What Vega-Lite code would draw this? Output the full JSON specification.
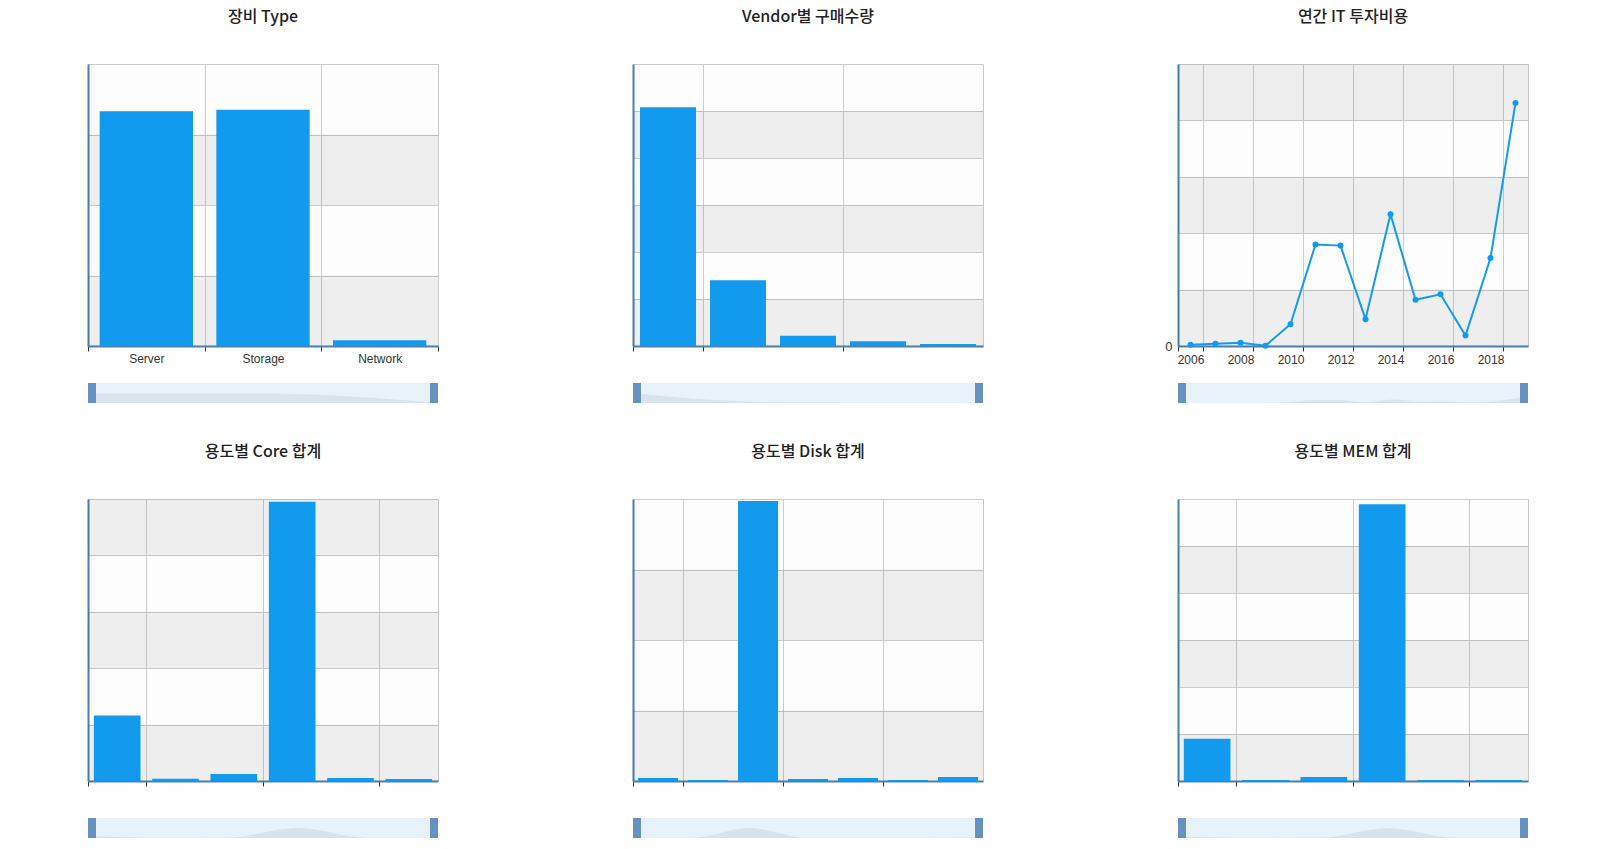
{
  "$schema": "https://vega.github.io/schema/vega-lite/v6.json",
  "background": "#ffffff",
  "padding": {"left": 74, "top": 8, "right": 0, "bottom": 0},
  "config": {
    "font": "Noto Sans",
    "view": {"stroke": "#c8c8c8", "fill": "#fdfdfd"},
    "axis": {
      "domainColor": "#4a80b0",
      "domainWidth": 2,
      "gridColor": "#cccccc",
      "gridWidth": 1,
      "tickColor": "#333333",
      "tickSize": 5,
      "labelColor": "#333333",
      "labelFont": "Liberation Sans",
      "labelFontSize": 12
    },
    "axisY": {
      "ticks": false,
      "grid": true,
      "labelExpr": "datum.value == 0 ? '0' : ''",
      "labelFontSize": 13,
      "labelPadding": 6,
      "labelColor": "transparent"
    },
    "title": {
      "font": "Noto Sans CJK KR",
      "fontSize": 16,
      "fontWeight": 500,
      "color": "#222222",
      "offset": 39,
      "anchor": "middle"
    }
  },
  "datasets": {
    "type": [
      {"type": "Server", "count": 333},
      {"type": "Storage", "count": 335},
      {"type": "Network", "count": 8}
    ],
    "vendor": [
      {"vendor": "Vendor 1", "count": 254},
      {"vendor": "Vendor 2", "count": 70},
      {"vendor": "Vendor 3", "count": 11},
      {"vendor": "Vendor 4", "count": 5},
      {"vendor": "Vendor 5", "count": 2}
    ],
    "invest": [
      {"year": 2006, "cost": 2.4},
      {"year": 2007, "cost": 4.2},
      {"year": 2008, "cost": 5.9},
      {"year": 2009, "cost": 0.6},
      {"year": 2010, "cost": 38.6},
      {"year": 2011, "cost": 180},
      {"year": 2012, "cost": 178},
      {"year": 2013, "cost": 47.6},
      {"year": 2014, "cost": 233.6},
      {"year": 2015, "cost": 82},
      {"year": 2016, "cost": 91.6},
      {"year": 2017, "cost": 18.4},
      {"year": 2018, "cost": 156},
      {"year": 2019, "cost": 431}
    ],
    "core": [
      {"usage": "용도 1", "value": 116},
      {"usage": "용도 2", "value": 4},
      {"usage": "용도 3", "value": 12.5},
      {"usage": "용도 4", "value": 495},
      {"usage": "용도 5", "value": 5.4},
      {"usage": "용도 6", "value": 3.6}
    ],
    "disk": [
      {"usage": "용도 1", "value": 4.3},
      {"usage": "용도 2", "value": 1.4},
      {"usage": "용도 3", "value": 397},
      {"usage": "용도 4", "value": 3},
      {"usage": "용도 5", "value": 4.3},
      {"usage": "용도 6", "value": 1.4},
      {"usage": "용도 7", "value": 5.7}
    ],
    "mem": [
      {"usage": "용도 1", "value": 90},
      {"usage": "용도 2", "value": 2},
      {"usage": "용도 3", "value": 8.6},
      {"usage": "용도 4", "value": 589},
      {"usage": "용도 5", "value": 2},
      {"usage": "용도 6", "value": 2}
    ],
    "bands4": [{"lo": 0, "hi": 100}, {"lo": 200, "hi": 300}],
    "bands50": [{"lo": 0, "hi": 50}, {"lo": 100, "hi": 150}, {"lo": 200, "hi": 250}],
    "bands5": [{"lo": 0, "hi": 100}, {"lo": 200, "hi": 300}, {"lo": 400, "hi": 500}]
  },
  "spacing": 36,
  "vconcat": [
    {
      "spacing": 180,
      "hconcat": [
        {
          "spacing": 14,
          "vconcat": [
            {
              "title": "장비 Type",
              "width": 350,
              "height": 282,
              "layer": [
                {
                  "data": {"name": "bands4"},
                  "mark": {"type": "rect", "color": "#000000", "opacity": 0.06},
                  "encoding": {
                    "y": {"field": "lo", "type": "quantitative", "scale": {"domain": [0, 400], "nice": false}, "axis": {"values": [0, 100, 200, 300, 400], "title": null}},
                    "y2": {"field": "hi"}
                  }
                },
                {
                  "data": {"name": "type"},
                  "mark": {"type": "bar", "color": "#129bee", "width": {"band": 0.8}},
                  "encoding": {
                    "x": {"field": "type", "type": "nominal", "sort": null, "scale": {"paddingInner": 0, "paddingOuter": 0}, "axis": {"tickBand": "extent", "labelAngle": 0, "grid": true, "title": null}},
                    "y": {"field": "count", "type": "quantitative", "axis": {"values": [0, 100, 200, 300, 400], "title": null}}
                  }
                }
              ]
            },
            {
              "width": 350,
              "height": 20,
              "view": {"fill": "#e8f2fa", "stroke": null},
              "data": {"name": "type"},
              "layer": [
                {
                  "mark": {"type": "area", "color": "#d8e3ed", "interpolate": "monotone"},
                  "encoding": {
                    "x": {"field": "type", "type": "nominal", "sort": null, "scale": {"type": "point", "padding": 0}, "axis": null},
                    "y": {"field": "count", "type": "quantitative", "scale": {"domain": [0, 700]}, "axis": null}
                  }
                },
                {
                  "transform": [{"filter": "datum.type == 'Server'"}],
                  "mark": {"type": "rule", "color": "#6592c0", "strokeWidth": 8, "xOffset": 4},
                  "encoding": {"x": {"field": "type", "type": "nominal", "sort": null, "axis": null}}
                },
                {
                  "transform": [{"filter": "datum.type == 'Network'"}],
                  "mark": {"type": "rule", "color": "#6592c0", "strokeWidth": 8, "xOffset": -4},
                  "encoding": {"x": {"field": "type", "type": "nominal", "sort": null, "axis": null}}
                }
              ]
            }
          ]
        },
        {
          "spacing": 25,
          "vconcat": [
            {
              "title": "Vendor별 구매수량",
              "width": 350,
              "height": 282,
              "layer": [
                {
                  "data": {"name": "bands50"},
                  "mark": {"type": "rect", "color": "#000000", "opacity": 0.06},
                  "encoding": {
                    "y": {"field": "lo", "type": "quantitative", "scale": {"domain": [0, 300], "nice": false}, "axis": {"values": [0, 50, 100, 150, 200, 250, 300], "title": null}},
                    "y2": {"field": "hi"}
                  }
                },
                {
                  "data": {"name": "vendor"},
                  "mark": {"type": "bar", "color": "#129bee", "width": {"band": 0.8}},
                  "encoding": {
                    "x": {"field": "vendor", "type": "nominal", "sort": null, "scale": {"paddingInner": 0, "paddingOuter": 0}, "axis": {"values": ["Vendor 1", "Vendor 2", "Vendor 4"], "bandPosition": 0, "labels": false, "grid": true, "title": null}},
                    "y": {"field": "count", "type": "quantitative", "axis": {"values": [0, 50, 100, 150, 200, 250, 300], "title": null}}
                  }
                }
              ]
            },
            {
              "width": 350,
              "height": 20,
              "view": {"fill": "#e8f2fa", "stroke": null},
              "data": {"name": "vendor"},
              "layer": [
                {
                  "mark": {"type": "area", "color": "#d8e3ed", "interpolate": "monotone"},
                  "encoding": {
                    "x": {"field": "vendor", "type": "nominal", "sort": null, "scale": {"type": "point", "padding": 0}, "axis": null},
                    "y": {"field": "count", "type": "quantitative", "scale": {"domain": [0, 520]}, "axis": null}
                  }
                },
                {
                  "transform": [{"filter": "datum.vendor == 'Vendor 1'"}],
                  "mark": {"type": "rule", "color": "#6592c0", "strokeWidth": 8, "xOffset": 4},
                  "encoding": {"x": {"field": "vendor", "type": "nominal", "sort": null, "axis": null}}
                },
                {
                  "transform": [{"filter": "datum.vendor == 'Vendor 5'"}],
                  "mark": {"type": "rule", "color": "#6592c0", "strokeWidth": 8, "xOffset": -4},
                  "encoding": {"x": {"field": "vendor", "type": "nominal", "sort": null, "axis": null}}
                }
              ]
            }
          ]
        },
        {
          "spacing": 13,
          "vconcat": [
            {
              "title": "연간 IT 투자비용",
              "width": 350,
              "height": 282,
              "resolve": {"axis": {"x": "independent"}},
              "layer": [
                {
                  "data": {"name": "bands5"},
                  "mark": {"type": "rect", "color": "#000000", "opacity": 0.06},
                  "encoding": {
                    "y": {"field": "lo", "type": "quantitative", "scale": {"domain": [0, 500], "nice": false}, "axis": {"values": [0, 100, 200, 300, 400, 500], "title": null, "labelColor": "#333333"}},
                    "y2": {"field": "hi"}
                  }
                },
                {
                  "data": {"name": "invest"},
                  "mark": {"type": "line", "color": "#129bee", "strokeWidth": 2},
                  "encoding": {
                    "x": {"field": "year", "type": "quantitative", "scale": {"domain": [2005.5, 2019.5], "nice": false, "zero": false}, "axis": {"values": [2005.5, 2006.5, 2008.5, 2010.5, 2012.5, 2014.5, 2016.5, 2018.5], "labels": false, "grid": true, "ticks": true, "orient": "bottom", "title": null}},
                    "y": {"field": "cost", "type": "quantitative", "axis": {"values": [0, 100, 200, 300, 400, 500], "title": null, "labelColor": "#333333"}}
                  }
                },
                {
                  "data": {"name": "invest"},
                  "mark": {"type": "point", "filled": true, "color": "#129bee", "size": 36, "opacity": 1},
                  "encoding": {
                    "x": {"field": "year", "type": "quantitative", "axis": {"values": [2006, 2008, 2010, 2012, 2014, 2016, 2018], "format": "d", "grid": false, "ticks": false, "domain": false, "orient": "bottom", "title": null, "labelPadding": 8}},
                    "y": {"field": "cost", "type": "quantitative", "axis": {"values": [0, 100, 200, 300, 400, 500], "title": null, "labelColor": "#333333"}}
                  }
                }
              ]
            },
            {
              "width": 350,
              "height": 20,
              "view": {"fill": "#e8f2fa", "stroke": null},
              "data": {"name": "invest"},
              "layer": [
                {
                  "mark": {"type": "area", "color": "#d8e3ed", "interpolate": "monotone"},
                  "encoding": {
                    "x": {"field": "year", "type": "quantitative", "scale": {"domain": [2006, 2019], "nice": false, "zero": false}, "axis": null},
                    "y": {"field": "cost", "type": "quantitative", "scale": {"domain": [0, 1300]}, "axis": null}
                  }
                },
                {
                  "transform": [{"filter": "datum.year == 2006"}],
                  "mark": {"type": "rule", "color": "#6592c0", "strokeWidth": 8, "xOffset": 4},
                  "encoding": {"x": {"field": "year", "type": "quantitative", "axis": null}}
                },
                {
                  "transform": [{"filter": "datum.year == 2019"}],
                  "mark": {"type": "rule", "color": "#6592c0", "strokeWidth": 8, "xOffset": -4},
                  "encoding": {"x": {"field": "year", "type": "quantitative", "axis": null}}
                }
              ]
            }
          ]
        }
      ]
    },
    {
      "spacing": 180,
      "hconcat": [
        {
          "spacing": 25,
          "vconcat": [
            {
              "title": "용도별 Core 합계",
              "width": 350,
              "height": 282,
              "layer": [
                {
                  "data": {"name": "bands5"},
                  "mark": {"type": "rect", "color": "#000000", "opacity": 0.06},
                  "encoding": {
                    "y": {"field": "lo", "type": "quantitative", "scale": {"domain": [0, 500], "nice": false}, "axis": {"values": [0, 100, 200, 300, 400, 500], "title": null}},
                    "y2": {"field": "hi"}
                  }
                },
                {
                  "data": {"name": "core"},
                  "mark": {"type": "bar", "color": "#129bee", "width": {"band": 0.8}},
                  "encoding": {
                    "x": {"field": "usage", "type": "nominal", "sort": null, "scale": {"paddingInner": 0, "paddingOuter": 0}, "axis": {"values": ["용도 1", "용도 2", "용도 4", "용도 6"], "bandPosition": 0, "labels": false, "grid": true, "title": null}},
                    "y": {"field": "value", "type": "quantitative", "axis": {"values": [0, 100, 200, 300, 400, 500], "title": null}}
                  }
                }
              ]
            },
            {
              "width": 350,
              "height": 20,
              "view": {"fill": "#e8f2fa", "stroke": null},
              "data": {"name": "core"},
              "layer": [
                {
                  "mark": {"type": "area", "color": "#d8e3ed", "interpolate": "monotone"},
                  "encoding": {
                    "x": {"field": "usage", "type": "nominal", "sort": null, "scale": {"type": "point", "padding": 0}, "axis": null},
                    "y": {"field": "value", "type": "quantitative", "scale": {"domain": [0, 1000]}, "axis": null}
                  }
                },
                {
                  "transform": [{"filter": "datum.usage == '용도 1'"}],
                  "mark": {"type": "rule", "color": "#6592c0", "strokeWidth": 8, "xOffset": 4},
                  "encoding": {"x": {"field": "usage", "type": "nominal", "sort": null, "axis": null}}
                },
                {
                  "transform": [{"filter": "datum.usage == '용도 6'"}],
                  "mark": {"type": "rule", "color": "#6592c0", "strokeWidth": 8, "xOffset": -4},
                  "encoding": {"x": {"field": "usage", "type": "nominal", "sort": null, "axis": null}}
                }
              ]
            }
          ]
        },
        {
          "spacing": 25,
          "vconcat": [
            {
              "title": "용도별 Disk 합계",
              "width": 350,
              "height": 282,
              "layer": [
                {
                  "data": {"name": "bands4"},
                  "mark": {"type": "rect", "color": "#000000", "opacity": 0.06},
                  "encoding": {
                    "y": {"field": "lo", "type": "quantitative", "scale": {"domain": [0, 400], "nice": false}, "axis": {"values": [0, 100, 200, 300, 400], "title": null}},
                    "y2": {"field": "hi"}
                  }
                },
                {
                  "data": {"name": "disk"},
                  "mark": {"type": "bar", "color": "#129bee", "width": {"band": 0.8}},
                  "encoding": {
                    "x": {"field": "usage", "type": "nominal", "sort": null, "scale": {"paddingInner": 0, "paddingOuter": 0}, "axis": {"values": ["용도 1", "용도 2", "용도 4", "용도 6"], "bandPosition": 0, "labels": false, "grid": true, "title": null}},
                    "y": {"field": "value", "type": "quantitative", "axis": {"values": [0, 100, 200, 300, 400], "title": null}}
                  }
                }
              ]
            },
            {
              "width": 350,
              "height": 20,
              "view": {"fill": "#e8f2fa", "stroke": null},
              "data": {"name": "disk"},
              "layer": [
                {
                  "mark": {"type": "area", "color": "#d8e3ed", "interpolate": "monotone"},
                  "encoding": {
                    "x": {"field": "usage", "type": "nominal", "sort": null, "scale": {"type": "point", "padding": 0}, "axis": null},
                    "y": {"field": "value", "type": "quantitative", "scale": {"domain": [0, 800]}, "axis": null}
                  }
                },
                {
                  "transform": [{"filter": "datum.usage == '용도 1'"}],
                  "mark": {"type": "rule", "color": "#6592c0", "strokeWidth": 8, "xOffset": 4},
                  "encoding": {"x": {"field": "usage", "type": "nominal", "sort": null, "axis": null}}
                },
                {
                  "transform": [{"filter": "datum.usage == '용도 7'"}],
                  "mark": {"type": "rule", "color": "#6592c0", "strokeWidth": 8, "xOffset": -4},
                  "encoding": {"x": {"field": "usage", "type": "nominal", "sort": null, "axis": null}}
                }
              ]
            }
          ]
        },
        {
          "spacing": 25,
          "vconcat": [
            {
              "title": "용도별 MEM 합계",
              "width": 350,
              "height": 282,
              "layer": [
                {
                  "data": {"name": "bands5"},
                  "mark": {"type": "rect", "color": "#000000", "opacity": 0.06},
                  "encoding": {
                    "y": {"field": "lo", "type": "quantitative", "scale": {"domain": [0, 600], "nice": false}, "axis": {"values": [0, 100, 200, 300, 400, 500, 600], "title": null}},
                    "y2": {"field": "hi"}
                  }
                },
                {
                  "data": {"name": "mem"},
                  "mark": {"type": "bar", "color": "#129bee", "width": {"band": 0.8}},
                  "encoding": {
                    "x": {"field": "usage", "type": "nominal", "sort": null, "scale": {"paddingInner": 0, "paddingOuter": 0}, "axis": {"values": ["용도 1", "용도 2", "용도 4", "용도 6"], "bandPosition": 0, "labels": false, "grid": true, "title": null}},
                    "y": {"field": "value", "type": "quantitative", "axis": {"values": [0, 100, 200, 300, 400, 500, 600], "title": null}}
                  }
                }
              ]
            },
            {
              "width": 350,
              "height": 20,
              "view": {"fill": "#e8f2fa", "stroke": null},
              "data": {"name": "mem"},
              "layer": [
                {
                  "mark": {"type": "area", "color": "#d8e3ed", "interpolate": "monotone"},
                  "encoding": {
                    "x": {"field": "usage", "type": "nominal", "sort": null, "scale": {"type": "point", "padding": 0}, "axis": null},
                    "y": {"field": "value", "type": "quantitative", "scale": {"domain": [0, 1200]}, "axis": null}
                  }
                },
                {
                  "transform": [{"filter": "datum.usage == '용도 1'"}],
                  "mark": {"type": "rule", "color": "#6592c0", "strokeWidth": 8, "xOffset": 4},
                  "encoding": {"x": {"field": "usage", "type": "nominal", "sort": null, "axis": null}}
                },
                {
                  "transform": [{"filter": "datum.usage == '용도 6'"}],
                  "mark": {"type": "rule", "color": "#6592c0", "strokeWidth": 8, "xOffset": -4},
                  "encoding": {"x": {"field": "usage", "type": "nominal", "sort": null, "axis": null}}
                }
              ]
            }
          ]
        }
      ]
    }
  ]
}
